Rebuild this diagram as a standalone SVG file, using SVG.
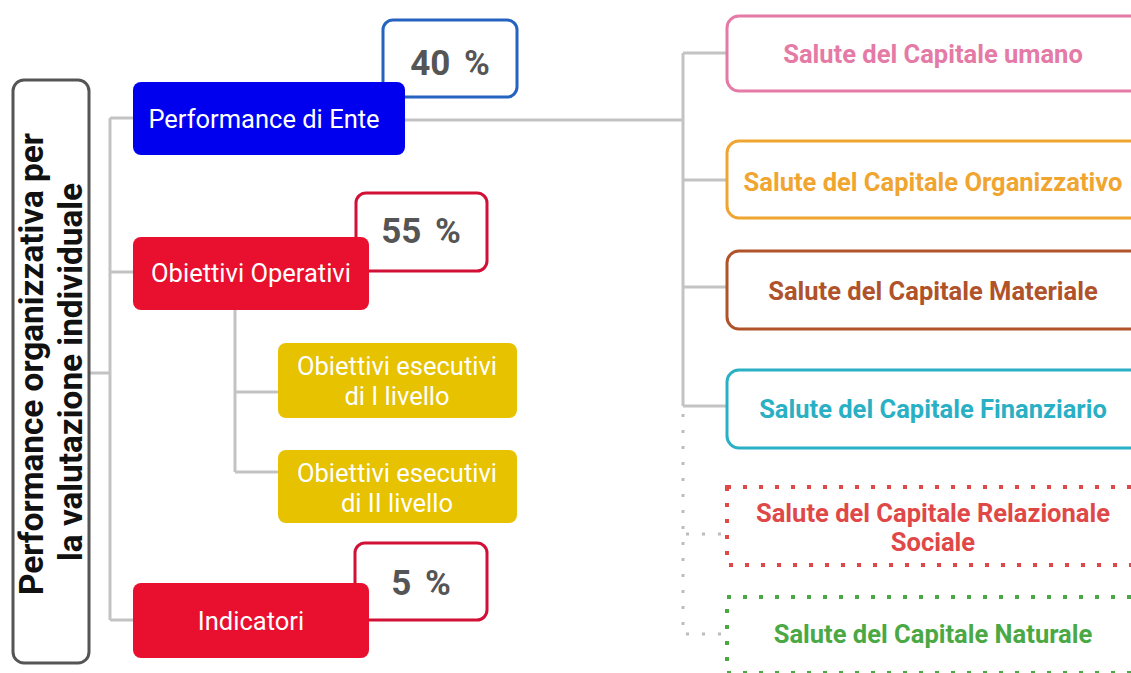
<svg xmlns="http://www.w3.org/2000/svg" width="1131" height="673" viewBox="0 0 1131 673">
<style>
text{font-family:Roboto,"Liberation Sans",sans-serif}
.conn{fill:none;stroke:#c3c3c3;stroke-width:3}
.dconn{fill:none;stroke:#bdbdbd;stroke-width:3;stroke-dasharray:3 13}
.wt{fill:#fff;font-size:25.5px;text-anchor:middle}
.pct{fill:#555;font-size:35px;font-weight:bold;text-anchor:middle;word-spacing:5px}
.pbox{fill:#fff;stroke-width:3}
.sal{fill:#fff;stroke-width:3}
.st{font-size:25.5px;font-weight:bold;text-anchor:middle}
.dot{fill:#fff;stroke-width:4;stroke-dasharray:4 12}
</style>
<rect width="1131" height="673" fill="#fff"/>
<g id="connectors">
<path class="conn" d="M89 373H110M110 118V620M110 118H133M110 272H133M110 620H133"/>
<path class="conn" d="M235 310V472M235 392H278M235 472H278"/>
<path class="conn" d="M405 120H683M683 53V406M683 53H727M683 180H727M683 287H727M683 406H727"/>
<path class="dconn" d="M683 414V634M686 534H727M686 634H727"/>
</g>
<g id="root">
<rect x="13" y="80" width="76" height="583" rx="11" fill="#fff" stroke="#555" stroke-width="3"/>
<text transform="translate(43,364) rotate(-90)" font-size="33.3" font-weight="bold" fill="#111" text-anchor="middle">Performance organizzativa per</text>
<text transform="translate(82,372) rotate(-90)" font-size="33.3" font-weight="bold" fill="#111" text-anchor="middle">la valutazione individuale</text>
</g>
<g id="pct40">
<rect class="pbox" x="383" y="20" width="134" height="77" rx="10" stroke="#2563c0"/>
<text class="pct" x="450" y="75">40 %</text>
</g>
<g id="perf-ente">
<rect x="133" y="82" width="272" height="73" rx="8" fill="#0000ee"/>
<text class="wt" x="264" y="128">Performance di Ente</text>
</g>
<g id="pct55">
<rect class="pbox" x="356" y="193" width="131" height="78" rx="10" stroke="#d21036"/>
<text class="pct" x="421" y="243">55 %</text>
</g>
<g id="ob-operativi">
<rect x="133" y="237" width="236" height="73" rx="8" fill="#e8102e"/>
<text class="wt" x="251" y="282">Obiettivi Operativi</text>
</g>
<g id="ob-es-1">
<rect x="278" y="343" width="239" height="75" rx="8" fill="#e6c200"/>
<text class="wt" x="397" y="375">Obiettivi esecutivi</text>
<text class="wt" x="397" y="405">di I livello</text>
</g>
<g id="ob-es-2">
<rect x="278" y="450" width="239" height="73" rx="8" fill="#e6c200"/>
<text class="wt" x="397" y="482">Obiettivi esecutivi</text>
<text class="wt" x="397" y="512">di II livello</text>
</g>
<g id="pct5">
<rect class="pbox" x="355" y="543" width="132" height="77" rx="10" stroke="#d21036"/>
<text class="pct" x="421" y="595">5 %</text>
</g>
<g id="indicatori">
<rect x="133" y="583" width="236" height="75" rx="8" fill="#e8102e"/>
<text class="wt" x="251" y="630">Indicatori</text>
</g>
<g id="cap-umano">
<rect class="sal" x="727" y="16" width="420" height="75" rx="12" stroke="#e47aa5"/>
<text class="st" x="933" y="63" fill="#e47aa5">Salute del Capitale umano</text>
</g>
<g id="cap-organizzativo">
<rect class="sal" x="727" y="141" width="420" height="77" rx="12" stroke="#f0a530"/>
<text class="st" x="933" y="191" fill="#f0a530">Salute del Capitale Organizzativo</text>
</g>
<g id="cap-materiale">
<rect class="sal" x="727" y="251" width="420" height="78" rx="12" stroke="#b0522a"/>
<text class="st" x="933" y="300" fill="#b0522a">Salute del Capitale Materiale</text>
</g>
<g id="cap-finanziario">
<rect class="sal" x="727" y="370" width="420" height="78" rx="12" stroke="#2ab0c5"/>
<text class="st" x="933" y="418" fill="#2ab0c5">Salute del Capitale Finanziario</text>
</g>
<g id="cap-relazionale">
<rect class="dot" x="727" y="487" width="420" height="78" stroke="#e04848"/>
<text class="st" x="933" y="522" fill="#e04848">Salute del Capitale Relazionale</text>
<text class="st" x="933" y="551" fill="#e04848">Sociale</text>
</g>
<g id="cap-naturale">
<rect class="dot" x="727" y="597" width="420" height="76" stroke="#4aa845"/>
<text class="st" x="933" y="643" fill="#4aa845">Salute del Capitale Naturale</text>
</g>
</svg>
